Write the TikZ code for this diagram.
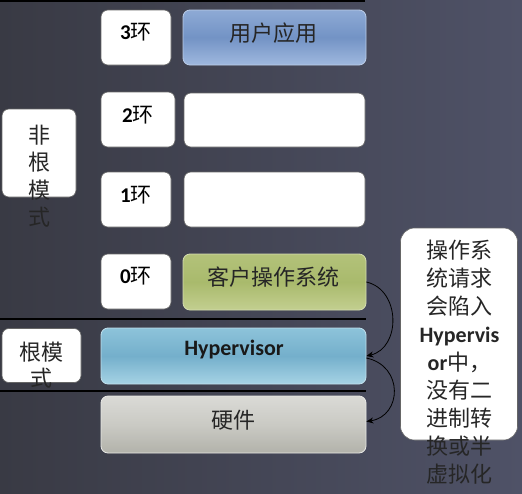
\documentclass[tikz,border=0pt]{standalone}
\usepackage{fontspec}
\setmainfont{Carlito}
\newfontfamily\cjk{Noto Sans CJK SC}
\usetikzlibrary{arrows.meta}
\definecolor{bgL}{HTML}{393A44}
\definecolor{bgR}{HTML}{4F5267}
\definecolor{appT}{HTML}{8EAAD5}
\definecolor{appM}{HTML}{7393C5}
\definecolor{appB}{HTML}{9FB8DE}
\definecolor{gstT}{HTML}{B3C27A}
\definecolor{gstM}{HTML}{A9BA6C}
\definecolor{gstB}{HTML}{C3CF90}
\definecolor{hypT}{HTML}{8DC3DA}
\definecolor{hypM}{HTML}{74AFCB}
\definecolor{hypB}{HTML}{A6D3E5}
\definecolor{hwT}{HTML}{DADAD6}
\definecolor{hwM}{HTML}{CACAC4}
\definecolor{hwB}{HTML}{B2B2AA}
\tikzset{
  wbox/.style={draw=black!60, line width=0.6pt, fill=white, rounded corners=7pt, inner sep=0pt},
  cbox/.style={rounded corners=7pt, inner sep=0pt, line width=0.8pt},
  ringlbl/.style={font=\fontsize{21}{24}\selectfont, text=black, inner sep=0pt},
  biglbl/.style={font=\fontsize{22}{26}\selectfont\cjk, text=black!85, inner sep=0pt},
  sepline/.style={draw=black, line width=1.2pt},
  jump/.style={draw=black, line width=0.8pt, -{Stealth[length=7pt,width=6pt]}}
}
\begin{document}
\begin{tikzpicture}[x=1pt,y=-1pt]
\useasboundingbox (0,0) rectangle (522,493);
\shade[left color=bgL, right color=bgR] (0,0) rectangle (522,493);

% separator lines
\draw[sepline] (0,1) -- (365,1);
\draw[sepline] (0,319) -- (366,319);
\draw[sepline] (0,391) -- (366,391);

% ring boxes
\node[wbox, minimum width=70pt, minimum height=55pt] (r3) at (136,37.5) {};
\node[wbox, minimum width=74pt, minimum height=55pt] (r2) at (138,119.5) {};
\node[wbox, minimum width=70pt, minimum height=55pt] (r1) at (136,199.5) {};
\node[wbox, minimum width=70pt, minimum height=55pt] (r0) at (136,281.5) {};
\node[ringlbl] (t3) at (136,32.5) {\bfseries 3\mdseries\cjk 环};
\node[ringlbl] (t2) at (138,115) {\bfseries 2\mdseries\cjk 环};
\node[ringlbl] (t1) at (136,195) {\bfseries 1\mdseries\cjk 环};
\node[ringlbl] (t0) at (136,276) {\bfseries 0\mdseries\cjk 环};

% layer boxes
\node[cbox, draw=appB!70!white, minimum width=183pt, minimum height=55pt, top color=appT, bottom color=appB, middle color=appM] (app) at (274.5,37.5) {};
\node[biglbl] (appl) at (273.5,33) {用户应用};
\node[wbox, minimum width=181pt, minimum height=54pt] (b2) at (274.5,120) {};
\node[wbox, minimum width=181pt, minimum height=55pt] (b1) at (274.5,199.5) {};
\node[cbox, draw=gstB!70!white, minimum width=183pt, minimum height=56pt, top color=gstT, bottom color=gstB, middle color=gstM] (guest) at (274.5,282) {};
\node[biglbl] (guestl) at (273.5,277) {客户操作系统};
\node[cbox, draw=hypB!70!white, minimum width=265pt, minimum height=56pt, top color=hypT, bottom color=hypB, middle color=hypM] (hyp) at (233.5,356) {};
\node[font=\fontsize{22}{26}\selectfont\bfseries, text=black!90, inner sep=0pt] (hypl) at (234,350) {Hypervisor};
\node[cbox, draw=hwT!60!white, minimum width=265pt, minimum height=57pt, top color=hwT, bottom color=hwB, middle color=hwM] (hw) at (233.5,424.5) {};
\node[biglbl] (hwl) at (233,420) {硬件};

% mode boxes
\node[wbox, minimum width=74pt, minimum height=88pt] (nonroot) at (39,153) {};
\node[biglbl, align=center, font=\fontsize{22}{27.5}\selectfont\cjk] (nonrootl) at (39,176) {非\\根\\模\\式};
\node[wbox, minimum width=79pt, minimum height=54pt] (root) at (41.5,355.5) {};
\node[biglbl, align=center, font=\fontsize{22}{26}\selectfont\cjk] (rootl) at (41.5,365) {根模\\式};

% note
\node[wbox, minimum width=117pt, minimum height=212pt, rounded corners=14pt] (note) at (459,334) {};
\node[align=center, inner sep=0pt, text=black!85, font=\fontsize{22}{28}\selectfont] (notel) at (459.5,362)
 {{\cjk 操作系}\\{\cjk 统请求}\\{\cjk 会陷入}\\\textbf{Hypervis}\\\textbf{or}{\cjk 中，}\\{\cjk 没有二}\\{\cjk 进制转}\\{\cjk 换或半}\\{\cjk 虚拟化}};

% arrows
\draw[jump] (guest.east) .. controls (401,290) and (401,348) .. (hyp.east);
\draw[jump] ([yshift=-2pt]hyp.east) .. controls (404,366) and (402,416) .. ([yshift=3pt]hw.east);
\end{tikzpicture}
\end{document}
